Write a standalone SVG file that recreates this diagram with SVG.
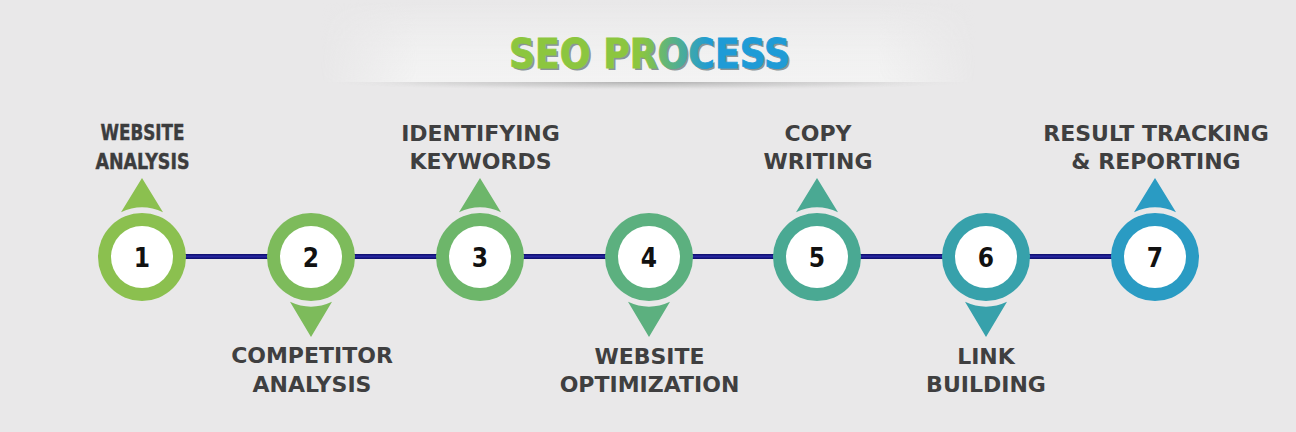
<svg xmlns="http://www.w3.org/2000/svg" width="1296" height="432" viewBox="0 0 1296 432">
<style>
.lbl{font-family:"DejaVu Sans",sans-serif;font-weight:bold;font-size:22px;fill:#3f3f40;text-anchor:middle}
.lbl1{font-family:"DejaVu Sans Condensed","DejaVu Sans",sans-serif;font-weight:bold;font-size:21px;fill:#3c3c3d;text-anchor:middle;stroke:#3c3c3d;stroke-width:0.4}
.num{font-family:"DejaVu Sans Condensed","DejaVu Sans",sans-serif;font-weight:bold;font-size:26px;fill:#111;text-anchor:middle}
.title{font-family:"DejaVu Sans Condensed","DejaVu Sans",sans-serif;font-weight:bold;font-size:40px;text-anchor:middle}
.inner{fill:#fff}
</style>
<defs>
<linearGradient id="tg" gradientUnits="userSpaceOnUse" x1="640" y1="0" x2="710" y2="0">
<stop offset="0" stop-color="#8cc63f"/>
<stop offset="1" stop-color="#1f9bd6"/>
</linearGradient>
<linearGradient id="hfade" x1="0" y1="0" x2="1" y2="0">
<stop offset="0" stop-color="#fff" stop-opacity="0"/>
<stop offset="0.15" stop-color="#fff" stop-opacity="1"/>
<stop offset="0.85" stop-color="#fff" stop-opacity="1"/>
<stop offset="1" stop-color="#fff" stop-opacity="0"/>
</linearGradient>
<linearGradient id="vband" x1="0" y1="0" x2="0" y2="1">
<stop offset="0" stop-color="#f2f2f2" stop-opacity="0"/>
<stop offset="0.6" stop-color="#f2f2f2" stop-opacity="0.8"/>
<stop offset="1" stop-color="#f3f3f3" stop-opacity="1"/>
</linearGradient>
<mask id="hmask" maskUnits="userSpaceOnUse" x="0" y="0" width="1296" height="120">
<rect x="320" y="0" width="656" height="110" fill="url(#hfade)"/>
</mask>
<radialGradient id="shadow" cx="0.5" cy="0" r="0.5">
<stop offset="0" stop-color="#a9a9a9" stop-opacity="0.9"/>
<stop offset="0.6" stop-color="#c4c4c4" stop-opacity="0.5"/>
<stop offset="1" stop-color="#d8d8d8" stop-opacity="0"/>
</radialGradient>
<linearGradient id="line" x1="0" y1="0" x2="0" y2="1">
<stop offset="0" stop-color="#0c0c6a"/>
<stop offset="0.5" stop-color="#2626a0"/>
<stop offset="1" stop-color="#0c0c6a"/>
</linearGradient>
<path id="up" d="M-21,-44.8 L0,-79 L21,-44.8 A49.5 49.5 0 0 0 -21,-44.8 Z"/>
<path id="down" d="M-21,44.8 L0,80 L21,44.8 A49.5 49.5 0 0 1 -21,44.8 Z"/>
</defs>
<rect width="1296" height="432" fill="#e9e8e9"/>
<g id="title">
<g mask="url(#hmask)">
<rect x="320" y="0" width="656" height="82" fill="url(#vband)"/>
<rect x="320" y="82" width="656" height="16" fill="url(#shadow)"/>
</g>
<text class="title" x="651.5" y="70" fill="#8a9597" textLength="281" lengthAdjust="spacingAndGlyphs">SEO PROCESS</text>
<text class="title" x="649.5" y="68" fill="url(#tg)" stroke="url(#tg)" stroke-width="0.8" textLength="281" lengthAdjust="spacingAndGlyphs">SEO PROCESS</text>
</g>
<g id="connectors">
<rect x="142" y="254" width="1013" height="5" fill="url(#line)"/>
</g>
<g id="step1" fill="#8bc04f">
<use href="#up" x="142" y="257"/>
<circle cx="142" cy="257" r="44"/>
<circle class="inner" cx="142" cy="257" r="31"/>
<text class="num" x="142" y="266.5">1</text>
<text class="lbl1" x="142.5" y="140" textLength="84" lengthAdjust="spacingAndGlyphs">WEBSITE</text>
<text class="lbl1" x="142.5" y="169" textLength="94" lengthAdjust="spacingAndGlyphs">ANALYSIS</text>
</g>
<g id="step2" fill="#7dbb5b">
<use href="#down" x="311" y="257"/>
<circle cx="311" cy="257" r="44"/>
<circle class="inner" cx="311" cy="257" r="31"/>
<text class="num" x="311" y="266.5">2</text>
<text class="lbl" x="312" y="363">COMPETITOR</text>
<text class="lbl" x="312" y="392">ANALYSIS</text>
</g>
<g id="step3" fill="#6db66a">
<use href="#up" x="480" y="257"/>
<circle cx="480" cy="257" r="44"/>
<circle class="inner" cx="480" cy="257" r="31"/>
<text class="num" x="480" y="266.5">3</text>
<text class="lbl" x="480.5" y="141">IDENTIFYING</text>
<text class="lbl" x="480.5" y="169">KEYWORDS</text>
</g>
<g id="step4" fill="#5cb07f">
<use href="#down" x="649" y="257"/>
<circle cx="649" cy="257" r="44"/>
<circle class="inner" cx="649" cy="257" r="31"/>
<text class="num" x="649" y="266.5">4</text>
<text class="lbl" x="649.5" y="363.5">WEBSITE</text>
<text class="lbl" x="649.5" y="392">OPTIMIZATION</text>
</g>
<g id="step5" fill="#4aa993">
<use href="#up" x="817" y="257"/>
<circle cx="817" cy="257" r="44"/>
<circle class="inner" cx="817" cy="257" r="31"/>
<text class="num" x="817" y="266.5">5</text>
<text class="lbl" x="818" y="141">COPY</text>
<text class="lbl" x="818" y="169">WRITING</text>
</g>
<g id="step6" fill="#37a1ab">
<use href="#down" x="986" y="257"/>
<circle cx="986" cy="257" r="44"/>
<circle class="inner" cx="986" cy="257" r="31"/>
<text class="num" x="986" y="266.5">6</text>
<text class="lbl" x="986" y="363.5">LINK</text>
<text class="lbl" x="986" y="392">BUILDING</text>
</g>
<g id="step7" fill="#2a9bc3">
<use href="#up" x="1155" y="257"/>
<circle cx="1155" cy="257" r="44"/>
<circle class="inner" cx="1155" cy="257" r="31"/>
<text class="num" x="1155" y="266.5">7</text>
<text class="lbl" x="1156" y="141" font-size="21.5">RESULT TRACKING</text>
<text class="lbl" x="1156" y="169" font-size="21.5">&amp; REPORTING</text>
</g>
</svg>
